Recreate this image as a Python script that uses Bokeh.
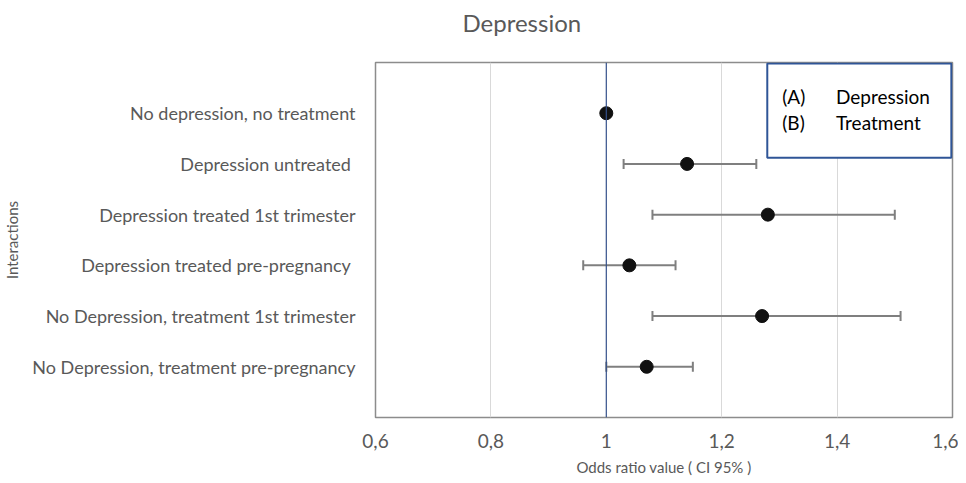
from bokeh.plotting import figure
from bokeh.models import FixedTicker, BoxAnnotation, Span, ColumnDataSource, Label, Title
from bokeh.embed import file_html
from bokeh.resources import INLINE

categories = [
    "No depression, no treatment",
    "Depression untreated ",
    "Depression treated 1st trimester",
    "Depression treated pre-pregnancy ",
    "No Depression, treatment 1st trimester",
    "No Depression, treatment pre-pregnancy",
]
odds_ratio = [1.00, 1.14, 1.28, 1.04, 1.27, 1.07]
ci_lower = [None, 1.03, 1.08, 0.96, 1.08, 1.00]
ci_upper = [None, 1.26, 1.50, 1.12, 1.51, 1.15]
x_ticks = [0.6, 0.8, 1.0, 1.2, 1.4, 1.6]
x_tick_labels = ["0,6", "0,8", "1", "1,2", "1,4", "1,6"]
legend_codes = ["(A)", "(B)"]
legend_names = ["Depression", "Treatment"]

FONT = "Lato"
GREY = "#595959"

n = len(categories)
ypos = [n - i for i in range(n)]

p = figure(width=958, height=478, output_backend="svg", toolbar_location=None,
           x_range=(0.6, 1.6), y_range=(0, n + 1),
           min_border_left=375, min_border_right=6, min_border_top=10, min_border_bottom=58)

# spacer between frame and title
p.add_layout(Title(text=" ", text_font_size="8px", standoff=10), "above")

p.title.text = "Depression"
p.title.align = "left"
p.title.offset = 87
p.title.text_font = FONT
p.title.text_font_size = "24px"
p.title.text_font_style = "normal"
p.title.text_color = GREY
p.title.standoff = 10

p.outline_line_color = "#8c8c8c"
p.outline_line_width = 1.5

# grid
p.xgrid.ticker = FixedTicker(ticks=[0.8, 1.2, 1.4])
p.xgrid.grid_line_color = "#d9d9d9"
p.xgrid.grid_line_width = 1
p.ygrid.grid_line_color = None

# x axis
p.xaxis.ticker = FixedTicker(ticks=x_ticks)
p.xaxis.major_label_overrides = {t: l for t, l in zip(x_ticks, x_tick_labels)}
p.xaxis.axis_line_color = None
p.xaxis.major_tick_line_color = None
p.xaxis.minor_tick_line_color = None
p.xaxis.major_label_text_font = FONT
p.xaxis.major_label_text_font_size = "19px"
p.xaxis.major_label_text_color = GREY
p.xaxis.major_label_standoff = 10
p.xaxis.axis_label = "Odds ratio value ( CI 95% )"
p.xaxis.axis_label_text_font = FONT
p.xaxis.axis_label_text_font_size = "15px"
p.xaxis.axis_label_text_font_style = "normal"
p.xaxis.axis_label_text_color = GREY
p.xaxis.axis_label_standoff = 7

# y axis
p.yaxis.ticker = FixedTicker(ticks=ypos)
p.yaxis.major_label_overrides = {y: c for y, c in zip(ypos, categories)}
p.yaxis.axis_line_color = None
p.yaxis.major_tick_line_color = None
p.yaxis.minor_tick_line_color = None
p.yaxis.major_label_text_font = FONT
p.yaxis.major_label_text_font_size = "18px"
p.yaxis.major_label_text_color = GREY
p.yaxis.major_label_standoff = 14
p.yaxis.axis_label = "Interactions"
p.yaxis.axis_label_text_font = FONT
p.yaxis.axis_label_text_font_size = "15px"
p.yaxis.axis_label_text_font_style = "normal"
p.yaxis.axis_label_text_color = GREY
p.yaxis.axis_label_standoff = 8

# reference line at 1
p.add_layout(Span(location=1.0, dimension="height", line_color="#34508a", line_width=1.2))

# error bars
eb_y = [y for y, lo in zip(ypos, ci_lower) if lo is not None]
eb_lo = [lo for lo in ci_lower if lo is not None]
eb_hi = [hi for hi in ci_upper if hi is not None]
src = ColumnDataSource(dict(y=eb_y, lo=eb_lo, hi=eb_hi))
p.segment(x0="lo", x1="hi", y0="y", y1="y", source=src, line_color="#7f7f7f", line_width=2)
p.scatter(x="lo", y="y", source=src, marker="dash", angle=1.5708, size=10,
          line_color="#7f7f7f", line_width=2)
p.scatter(x="hi", y="y", source=src, marker="dash", angle=1.5708, size=10,
          line_color="#7f7f7f", line_width=2)

# points
p.scatter(x=odds_ratio, y=ypos, size=13, fill_color="#111111", line_color="#111111")

# legend-like box
p.add_layout(BoxAnnotation(left=1.279, right=1.598, top=6.98, bottom=5.12,
                           fill_color="white", fill_alpha=1.0,
                           line_color="#2f5597", line_alpha=1.0, line_width=2))
for yv, code, name in zip([6.33, 5.815], legend_codes, legend_names):
    p.add_layout(Label(x=1.305, y=yv, text=code, text_font=FONT, text_font_size="19px",
                       text_color="black", text_baseline="middle"))
    p.add_layout(Label(x=1.398, y=yv, text=name, text_font=FONT, text_font_size="19px",
                       text_color="black", text_baseline="middle"))

open("out.html", "w").write(file_html(p, INLINE))
